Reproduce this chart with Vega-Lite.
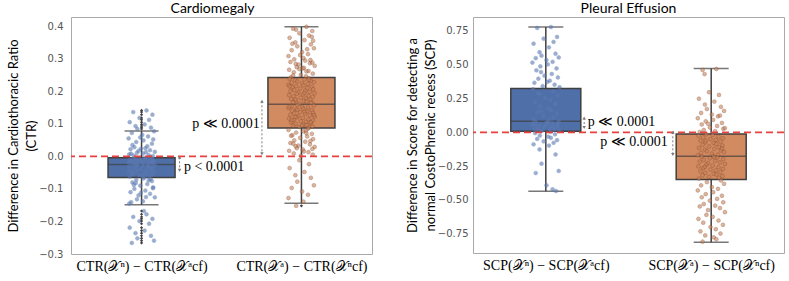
{
"$schema":"https://vega.github.io/schema/vega-lite/v6.json",
"padding":{"left":7,"top":1,"right":0,"bottom":0},
"spacing":31,
"config":{
 "view":{"stroke":"#a9a9a9","strokeWidth":1},
 "axis":{"grid":false,"ticks":false,"domain":false,"labelColor":"#555555","labelFont":"DejaVu Sans","labelFontSize":10,"labelOverlap":false,"titleFont":"Lato","titleFontSize":13,"titleFontWeight":"normal","titleColor":"#000000","titleLineHeight":18},
 "title":{"font":"Lato","fontSize":14,"fontWeight":"normal","color":"#000000"}
},
"datasets":{
 "ctrBox":[{"g":0,"lo":-0.149,"q1":-0.065,"med":-0.025,"q3":-0.004,"hi":0.078},{"g":1,"lo":-0.144,"q1":0.087,"med":0.160,"q3":0.242,"hi":0.398}],
 "scpBox":[{"g":0,"lo":-0.435,"q1":0.007,"med":0.081,"q3":0.324,"hi":0.779},{"g":1,"lo":-0.813,"q1":-0.349,"med":-0.177,"q3":-0.012,"hi":0.472}],
 "ctrPts":[
{"g":0,"x":0.031,"v":0.141},{"g":0,"x":-0.052,"v":0.136},{"g":0,"x":0.068,"v":0.128},{"g":0,"x":-0.013,"v":0.118},{"g":0,"x":0.047,"v":0.112},{"g":0,"x":-0.074,"v":0.105},{"g":0,"x":0.019,"v":0.098},{"g":0,"x":-0.038,"v":0.093},{"g":0,"x":0.059,"v":0.088},{"g":0,"x":-0.026,"v":0.084},
{"g":0,"x":0.078,"v":0.077},{"g":0,"x":-0.061,"v":0.072},{"g":0,"x":0.004,"v":0.066},{"g":0,"x":0.041,"v":0.061},{"g":0,"x":-0.081,"v":0.055},{"g":0,"x":0.012,"v":0.049},{"g":0,"x":-0.033,"v":0.044},{"g":0,"x":0.065,"v":0.039},{"g":0,"x":-0.057,"v":0.035},{"g":0,"x":0.036,"v":0.031},
{"g":0,"x":-0.008,"v":0.058},{"g":0,"x":0.073,"v":0.052},{"g":0,"x":-0.045,"v":0.028},{"g":0,"x":0.024,"v":0.025},{"g":0,"x":-0.069,"v":0.022},{"g":0,"x":0.053,"v":0.019},{"g":0,"x":-0.019,"v":0.017},{"g":0,"x":0.083,"v":0.014},{"g":0,"x":-0.029,"v":0.011},{"g":0,"x":0.009,"v":0.009},
{"g":0,"x":-0.077,"v":0.006},{"g":0,"x":0.044,"v":0.004},{"g":0,"x":-0.048,"v":0.002},{"g":0,"x":0.071,"v":0.001},{"g":0,"x":-0.004,"v":0.023},{"g":0,"x":0.028,"v":0.013},{"g":0,"x":-0.065,"v":0.008},{"g":0,"x":0.056,"v":-0.002},{"g":0,"x":-0.036,"v":-0.004},{"g":0,"x":0.015,"v":-0.005},
{"g":0,"x":0.031,"v":-0.006},{"g":0,"x":-0.052,"v":-0.007},{"g":0,"x":0.068,"v":-0.008},{"g":0,"x":-0.013,"v":-0.009},{"g":0,"x":0.047,"v":-0.010},{"g":0,"x":-0.074,"v":-0.011},{"g":0,"x":0.019,"v":-0.012},{"g":0,"x":-0.038,"v":-0.013},{"g":0,"x":0.059,"v":-0.014},{"g":0,"x":-0.026,"v":-0.015},
{"g":0,"x":0.078,"v":-0.016},{"g":0,"x":-0.061,"v":-0.017},{"g":0,"x":0.004,"v":-0.018},{"g":0,"x":0.041,"v":-0.019},{"g":0,"x":-0.081,"v":-0.020},{"g":0,"x":0.012,"v":-0.021},{"g":0,"x":-0.033,"v":-0.022},{"g":0,"x":0.065,"v":-0.023},{"g":0,"x":-0.057,"v":-0.024},{"g":0,"x":0.036,"v":-0.025},
{"g":0,"x":-0.008,"v":-0.012},{"g":0,"x":0.073,"v":-0.016},{"g":0,"x":-0.045,"v":-0.020},{"g":0,"x":0.024,"v":-0.008},{"g":0,"x":-0.069,"v":-0.014},{"g":0,"x":0.053,"v":-0.019},{"g":0,"x":-0.019,"v":-0.023},{"g":0,"x":0.083,"v":-0.026},{"g":0,"x":-0.029,"v":-0.028},{"g":0,"x":0.009,"v":-0.030},
{"g":0,"x":-0.077,"v":-0.032},{"g":0,"x":0.044,"v":-0.034},{"g":0,"x":-0.048,"v":-0.036},{"g":0,"x":0.071,"v":-0.038},{"g":0,"x":-0.004,"v":-0.040},{"g":0,"x":0.028,"v":-0.042},{"g":0,"x":-0.065,"v":-0.044},{"g":0,"x":0.056,"v":-0.046},{"g":0,"x":-0.036,"v":-0.048},{"g":0,"x":0.015,"v":-0.050},
{"g":0,"x":0.031,"v":-0.052},{"g":0,"x":-0.052,"v":-0.054},{"g":0,"x":0.068,"v":-0.056},{"g":0,"x":-0.013,"v":-0.058},{"g":0,"x":0.047,"v":-0.060},{"g":0,"x":-0.074,"v":-0.062},{"g":0,"x":0.019,"v":-0.064},{"g":0,"x":-0.038,"v":-0.029},{"g":0,"x":0.059,"v":-0.035},{"g":0,"x":-0.026,"v":-0.041},
{"g":0,"x":0.078,"v":-0.047},{"g":0,"x":-0.061,"v":-0.053},{"g":0,"x":0.004,"v":-0.059},{"g":0,"x":0.041,"v":-0.031},{"g":0,"x":-0.081,"v":-0.045},{"g":0,"x":0.012,"v":-0.068},{"g":0,"x":-0.033,"v":-0.072},{"g":0,"x":0.065,"v":-0.076},{"g":0,"x":-0.057,"v":-0.080},{"g":0,"x":0.036,"v":-0.085},
{"g":0,"x":-0.008,"v":-0.090},{"g":0,"x":0.073,"v":-0.095},{"g":0,"x":-0.045,"v":-0.100},{"g":0,"x":0.024,"v":-0.105},{"g":0,"x":-0.069,"v":-0.110},{"g":0,"x":0.053,"v":-0.115},{"g":0,"x":-0.019,"v":-0.120},{"g":0,"x":0.083,"v":-0.126},{"g":0,"x":-0.029,"v":-0.132},{"g":0,"x":0.009,"v":-0.138},
{"g":0,"x":-0.077,"v":-0.145},{"g":0,"x":0.044,"v":-0.074},{"g":0,"x":-0.048,"v":-0.088},{"g":0,"x":0.071,"v":-0.098},{"g":0,"x":-0.004,"v":-0.112},{"g":0,"x":0.028,"v":-0.125},{"g":0,"x":-0.065,"v":-0.141},{"g":0,"x":0.056,"v":-0.070},{"g":0,"x":-0.036,"v":-0.082},{"g":0,"x":0.015,"v":-0.168},
{"g":0,"x":0.031,"v":-0.178},{"g":0,"x":-0.052,"v":-0.186},{"g":0,"x":0.068,"v":-0.192},{"g":0,"x":-0.013,"v":-0.199},{"g":0,"x":0.047,"v":-0.207},{"g":0,"x":-0.074,"v":-0.219},{"g":0,"x":0.019,"v":-0.228},{"g":0,"x":-0.038,"v":-0.236},{"g":0,"x":0.059,"v":-0.244},{"g":0,"x":-0.026,"v":-0.252},
{"g":0,"x":0.078,"v":-0.259},{"g":0,"x":-0.061,"v":-0.266},
{"g":1,"x":1.031,"v":0.398},{"g":1,"x":0.948,"v":0.392},{"g":1,"x":1.068,"v":0.385},{"g":1,"x":0.987,"v":0.378},{"g":1,"x":1.047,"v":0.371},{"g":1,"x":0.926,"v":0.364},{"g":1,"x":1.019,"v":0.357},{"g":1,"x":0.962,"v":0.350},{"g":1,"x":1.059,"v":0.344},{"g":1,"x":0.974,"v":0.338},
{"g":1,"x":1.078,"v":0.332},{"g":1,"x":0.939,"v":0.326},{"g":1,"x":1.004,"v":0.320},{"g":1,"x":1.041,"v":0.314},{"g":1,"x":0.919,"v":0.308},{"g":1,"x":1.012,"v":0.302},{"g":1,"x":0.967,"v":0.389},{"g":1,"x":1.065,"v":0.367},{"g":1,"x":0.943,"v":0.346},{"g":1,"x":1.036,"v":0.329},
{"g":1,"x":0.992,"v":0.311},{"g":1,"x":1.073,"v":0.355},{"g":1,"x":0.955,"v":0.298},{"g":1,"x":1.024,"v":0.294},{"g":1,"x":0.931,"v":0.290},{"g":1,"x":1.053,"v":0.286},{"g":1,"x":0.981,"v":0.282},{"g":1,"x":1.083,"v":0.278},{"g":1,"x":0.971,"v":0.274},{"g":1,"x":1.009,"v":0.270},
{"g":1,"x":0.923,"v":0.266},{"g":1,"x":1.044,"v":0.262},{"g":1,"x":0.952,"v":0.258},{"g":1,"x":1.071,"v":0.254},{"g":1,"x":0.996,"v":0.250},{"g":1,"x":1.028,"v":0.246},{"g":1,"x":0.935,"v":0.243},{"g":1,"x":1.056,"v":0.296},{"g":1,"x":0.964,"v":0.284},{"g":1,"x":1.015,"v":0.272},
{"g":1,"x":1.031,"v":0.261},{"g":1,"x":0.948,"v":0.248},{"g":1,"x":1.068,"v":0.288},{"g":1,"x":0.987,"v":0.268},{"g":1,"x":1.047,"v":0.240},{"g":1,"x":0.926,"v":0.238},{"g":1,"x":1.019,"v":0.236},{"g":1,"x":0.962,"v":0.234},{"g":1,"x":1.059,"v":0.232},{"g":1,"x":0.974,"v":0.230},
{"g":1,"x":1.078,"v":0.228},{"g":1,"x":0.939,"v":0.226},{"g":1,"x":1.004,"v":0.224},{"g":1,"x":1.041,"v":0.222},{"g":1,"x":0.919,"v":0.220},{"g":1,"x":1.012,"v":0.218},{"g":1,"x":0.967,"v":0.216},{"g":1,"x":1.065,"v":0.214},{"g":1,"x":0.943,"v":0.212},{"g":1,"x":1.036,"v":0.210},
{"g":1,"x":0.992,"v":0.208},{"g":1,"x":1.073,"v":0.206},{"g":1,"x":0.955,"v":0.204},{"g":1,"x":1.024,"v":0.202},{"g":1,"x":0.931,"v":0.200},{"g":1,"x":1.053,"v":0.198},{"g":1,"x":0.981,"v":0.196},{"g":1,"x":1.083,"v":0.194},{"g":1,"x":0.971,"v":0.192},{"g":1,"x":1.009,"v":0.190},
{"g":1,"x":0.923,"v":0.188},{"g":1,"x":1.044,"v":0.186},{"g":1,"x":0.952,"v":0.184},{"g":1,"x":1.071,"v":0.182},{"g":1,"x":0.996,"v":0.180},{"g":1,"x":1.028,"v":0.178},{"g":1,"x":0.935,"v":0.176},{"g":1,"x":1.056,"v":0.174},{"g":1,"x":0.964,"v":0.172},{"g":1,"x":1.015,"v":0.170},
{"g":1,"x":1.031,"v":0.168},{"g":1,"x":0.948,"v":0.166},{"g":1,"x":1.068,"v":0.164},{"g":1,"x":0.987,"v":0.162},{"g":1,"x":1.047,"v":0.235},{"g":1,"x":0.926,"v":0.215},{"g":1,"x":1.019,"v":0.195},{"g":1,"x":0.962,"v":0.175},{"g":1,"x":1.059,"v":0.165},{"g":1,"x":0.974,"v":0.158},
{"g":1,"x":1.078,"v":0.156},{"g":1,"x":0.939,"v":0.154},{"g":1,"x":1.004,"v":0.152},{"g":1,"x":1.041,"v":0.150},{"g":1,"x":0.919,"v":0.148},{"g":1,"x":1.012,"v":0.146},{"g":1,"x":0.967,"v":0.144},{"g":1,"x":1.065,"v":0.142},{"g":1,"x":0.943,"v":0.140},{"g":1,"x":1.036,"v":0.138},
{"g":1,"x":0.992,"v":0.136},{"g":1,"x":1.073,"v":0.134},{"g":1,"x":0.955,"v":0.132},{"g":1,"x":1.024,"v":0.130},{"g":1,"x":0.931,"v":0.128},{"g":1,"x":1.053,"v":0.126},{"g":1,"x":0.981,"v":0.124},{"g":1,"x":1.083,"v":0.122},{"g":1,"x":0.971,"v":0.120},{"g":1,"x":1.009,"v":0.118},
{"g":1,"x":0.923,"v":0.116},{"g":1,"x":1.044,"v":0.114},{"g":1,"x":0.952,"v":0.112},{"g":1,"x":1.071,"v":0.110},{"g":1,"x":0.996,"v":0.108},{"g":1,"x":1.028,"v":0.106},{"g":1,"x":0.935,"v":0.104},{"g":1,"x":1.056,"v":0.102},{"g":1,"x":0.964,"v":0.100},{"g":1,"x":1.015,"v":0.098},
{"g":1,"x":1.031,"v":0.096},{"g":1,"x":0.948,"v":0.094},{"g":1,"x":1.068,"v":0.092},{"g":1,"x":0.987,"v":0.090},{"g":1,"x":1.047,"v":0.088},{"g":1,"x":0.926,"v":0.153},{"g":1,"x":1.019,"v":0.137},{"g":1,"x":0.962,"v":0.121},{"g":1,"x":1.059,"v":0.105},{"g":1,"x":0.974,"v":0.143},
{"g":1,"x":1.078,"v":0.127},{"g":1,"x":0.939,"v":0.111},{"g":1,"x":1.004,"v":0.095},{"g":1,"x":1.041,"v":0.085},{"g":1,"x":0.919,"v":0.081},{"g":1,"x":1.012,"v":0.077},{"g":1,"x":0.967,"v":0.073},{"g":1,"x":1.065,"v":0.069},{"g":1,"x":0.943,"v":0.065},{"g":1,"x":1.036,"v":0.061},
{"g":1,"x":0.992,"v":0.057},{"g":1,"x":1.073,"v":0.053},{"g":1,"x":0.955,"v":0.049},{"g":1,"x":1.024,"v":0.045},{"g":1,"x":0.931,"v":0.041},{"g":1,"x":1.053,"v":0.037},{"g":1,"x":0.981,"v":0.033},{"g":1,"x":1.083,"v":0.029},{"g":1,"x":0.971,"v":0.025},{"g":1,"x":1.009,"v":0.021},
{"g":1,"x":0.923,"v":0.017},{"g":1,"x":1.044,"v":0.013},{"g":1,"x":0.952,"v":0.009},{"g":1,"x":1.071,"v":0.005},{"g":1,"x":0.996,"v":0.002},{"g":1,"x":1.028,"v":0.079},{"g":1,"x":0.935,"v":0.063},{"g":1,"x":1.056,"v":0.047},{"g":1,"x":0.964,"v":0.031},{"g":1,"x":1.015,"v":0.015},
{"g":1,"x":1.031,"v":0.071},{"g":1,"x":0.948,"v":0.039},{"g":1,"x":1.068,"v":0.023},{"g":1,"x":0.987,"v":-0.012},{"g":1,"x":1.047,"v":-0.024},{"g":1,"x":0.926,"v":-0.036},{"g":1,"x":1.019,"v":-0.048},{"g":1,"x":0.962,"v":-0.058},{"g":1,"x":1.059,"v":-0.066},{"g":1,"x":0.974,"v":-0.078},
{"g":1,"x":1.078,"v":-0.089},{"g":1,"x":0.939,"v":-0.097},{"g":1,"x":1.004,"v":-0.108},{"g":1,"x":1.041,"v":-0.118},{"g":1,"x":0.919,"v":-0.128},{"g":1,"x":1.012,"v":-0.139},{"g":1,"x":0.967,"v":-0.152}
 ],
 "scpPts":[
{"g":0,"x":0.031,"v":0.778},{"g":0,"x":-0.052,"v":0.771},{"g":0,"x":0.068,"v":0.705},{"g":0,"x":-0.013,"v":0.692},{"g":0,"x":0.047,"v":0.668},{"g":0,"x":-0.074,"v":0.655},{"g":0,"x":0.019,"v":0.628},{"g":0,"x":-0.038,"v":0.592},{"g":0,"x":0.059,"v":0.581},{"g":0,"x":-0.026,"v":0.566},
{"g":0,"x":0.078,"v":0.553},{"g":0,"x":-0.061,"v":0.548},{"g":0,"x":0.004,"v":0.534},{"g":0,"x":0.041,"v":0.521},{"g":0,"x":-0.081,"v":0.515},{"g":0,"x":0.012,"v":0.502},{"g":0,"x":-0.033,"v":0.487},{"g":0,"x":0.065,"v":0.472},{"g":0,"x":-0.057,"v":0.458},{"g":0,"x":0.036,"v":0.431},
{"g":0,"x":-0.008,"v":0.418},{"g":0,"x":0.073,"v":0.405},{"g":0,"x":-0.045,"v":0.396},{"g":0,"x":0.024,"v":0.381},{"g":0,"x":-0.069,"v":0.366},{"g":0,"x":0.053,"v":0.352},{"g":0,"x":-0.019,"v":0.341},{"g":0,"x":0.083,"v":0.333},{"g":0,"x":-0.029,"v":0.445},{"g":0,"x":0.009,"v":0.372},
{"g":0,"x":-0.077,"v":0.318},{"g":0,"x":0.044,"v":0.301},{"g":0,"x":-0.048,"v":0.288},{"g":0,"x":0.071,"v":0.272},{"g":0,"x":-0.004,"v":0.254},{"g":0,"x":0.028,"v":0.239},{"g":0,"x":-0.065,"v":0.221},{"g":0,"x":0.056,"v":0.207},{"g":0,"x":-0.036,"v":0.192},{"g":0,"x":0.015,"v":0.178},
{"g":0,"x":0.031,"v":0.163},{"g":0,"x":-0.052,"v":0.149},{"g":0,"x":0.068,"v":0.136},{"g":0,"x":-0.013,"v":0.122},{"g":0,"x":0.047,"v":0.109},{"g":0,"x":-0.074,"v":0.097},{"g":0,"x":0.019,"v":0.088},{"g":0,"x":-0.038,"v":0.283},{"g":0,"x":0.059,"v":0.214},{"g":0,"x":-0.026,"v":0.156},
{"g":0,"x":0.078,"v":0.079},{"g":0,"x":-0.061,"v":0.075},{"g":0,"x":0.004,"v":0.071},{"g":0,"x":0.041,"v":0.067},{"g":0,"x":-0.081,"v":0.063},{"g":0,"x":0.012,"v":0.059},{"g":0,"x":-0.033,"v":0.055},{"g":0,"x":0.065,"v":0.051},{"g":0,"x":-0.057,"v":0.047},{"g":0,"x":0.036,"v":0.043},
{"g":0,"x":-0.008,"v":0.039},{"g":0,"x":0.073,"v":0.035},{"g":0,"x":-0.045,"v":0.031},{"g":0,"x":0.024,"v":0.027},{"g":0,"x":-0.069,"v":0.023},{"g":0,"x":0.053,"v":0.019},{"g":0,"x":-0.019,"v":0.015},{"g":0,"x":0.083,"v":0.011},{"g":0,"x":-0.029,"v":0.008},{"g":0,"x":0.009,"v":0.069},
{"g":0,"x":-0.077,"v":0.053},{"g":0,"x":0.044,"v":0.037},{"g":0,"x":-0.048,"v":0.021},{"g":0,"x":0.071,"v":0.061},{"g":0,"x":-0.004,"v":0.045},{"g":0,"x":0.028,"v":0.004},{"g":0,"x":-0.065,"v":-0.006},{"g":0,"x":0.056,"v":-0.015},{"g":0,"x":-0.036,"v":-0.024},{"g":0,"x":0.015,"v":-0.032},
{"g":0,"x":0.031,"v":-0.041},{"g":0,"x":-0.052,"v":-0.049},{"g":0,"x":0.068,"v":-0.058},{"g":0,"x":-0.013,"v":-0.067},{"g":0,"x":0.047,"v":-0.078},{"g":0,"x":-0.074,"v":-0.089},{"g":0,"x":0.019,"v":-0.098},{"g":0,"x":-0.038,"v":-0.127},{"g":0,"x":0.059,"v":-0.164},{"g":0,"x":-0.026,"v":-0.232},
{"g":0,"x":0.078,"v":-0.286},{"g":0,"x":-0.061,"v":-0.301},{"g":0,"x":0.004,"v":-0.392},{"g":0,"x":0.041,"v":-0.421},{"g":0,"x":0.062,"v":-0.434},
{"g":1,"x":1.031,"v":0.468},{"g":1,"x":0.948,"v":0.461},{"g":1,"x":0.96,"v":0.430},{"g":1,"x":0.987,"v":0.296},{"g":1,"x":1.047,"v":0.276},{"g":1,"x":0.926,"v":0.248},{"g":1,"x":1.019,"v":0.227},{"g":1,"x":0.962,"v":0.205},{"g":1,"x":1.059,"v":0.188},{"g":1,"x":0.974,"v":0.172},
{"g":1,"x":1.078,"v":0.158},{"g":1,"x":0.939,"v":0.143},{"g":1,"x":1.004,"v":0.131},{"g":1,"x":1.041,"v":0.118},{"g":1,"x":0.919,"v":0.104},{"g":1,"x":1.012,"v":0.092},{"g":1,"x":0.967,"v":0.081},{"g":1,"x":1.065,"v":0.069},{"g":1,"x":0.943,"v":0.058},{"g":1,"x":1.036,"v":0.047},
{"g":1,"x":0.992,"v":0.036},{"g":1,"x":1.073,"v":0.026},{"g":1,"x":0.955,"v":0.017},{"g":1,"x":1.024,"v":0.008},{"g":1,"x":0.931,"v":0.002},{"g":1,"x":1.053,"v":0.124},{"g":1,"x":0.981,"v":0.063},{"g":1,"x":1.083,"v":0.031},{"g":1,"x":0.971,"v":-0.014},{"g":1,"x":1.009,"v":-0.020},
{"g":1,"x":0.923,"v":-0.026},{"g":1,"x":1.044,"v":-0.032},{"g":1,"x":0.952,"v":-0.038},{"g":1,"x":1.071,"v":-0.044},{"g":1,"x":0.996,"v":-0.050},{"g":1,"x":1.028,"v":-0.056},{"g":1,"x":0.935,"v":-0.062},{"g":1,"x":1.056,"v":-0.068},{"g":1,"x":0.964,"v":-0.074},{"g":1,"x":1.015,"v":-0.080},
{"g":1,"x":1.031,"v":-0.086},{"g":1,"x":0.948,"v":-0.092},{"g":1,"x":1.068,"v":-0.098},{"g":1,"x":0.987,"v":-0.104},{"g":1,"x":1.047,"v":-0.110},{"g":1,"x":0.926,"v":-0.116},{"g":1,"x":1.019,"v":-0.122},{"g":1,"x":0.962,"v":-0.128},{"g":1,"x":1.059,"v":-0.134},{"g":1,"x":0.974,"v":-0.140},
{"g":1,"x":1.078,"v":-0.146},{"g":1,"x":0.939,"v":-0.152},{"g":1,"x":1.004,"v":-0.158},{"g":1,"x":1.041,"v":-0.164},{"g":1,"x":0.919,"v":-0.170},{"g":1,"x":1.012,"v":-0.176},{"g":1,"x":0.967,"v":-0.061},{"g":1,"x":1.065,"v":-0.119},{"g":1,"x":0.943,"v":-0.180},{"g":1,"x":1.036,"v":-0.186},
{"g":1,"x":0.992,"v":-0.192},{"g":1,"x":1.073,"v":-0.198},{"g":1,"x":0.955,"v":-0.204},{"g":1,"x":1.024,"v":-0.210},{"g":1,"x":0.931,"v":-0.216},{"g":1,"x":1.053,"v":-0.222},{"g":1,"x":0.981,"v":-0.228},{"g":1,"x":1.083,"v":-0.234},{"g":1,"x":0.971,"v":-0.240},{"g":1,"x":1.009,"v":-0.246},
{"g":1,"x":0.923,"v":-0.252},{"g":1,"x":1.044,"v":-0.258},{"g":1,"x":0.952,"v":-0.264},{"g":1,"x":1.071,"v":-0.270},{"g":1,"x":0.996,"v":-0.276},{"g":1,"x":1.028,"v":-0.282},{"g":1,"x":0.935,"v":-0.288},{"g":1,"x":1.056,"v":-0.294},{"g":1,"x":0.964,"v":-0.300},{"g":1,"x":1.015,"v":-0.306},
{"g":1,"x":1.031,"v":-0.312},{"g":1,"x":0.948,"v":-0.318},{"g":1,"x":1.068,"v":-0.324},{"g":1,"x":0.987,"v":-0.330},{"g":1,"x":1.047,"v":-0.336},{"g":1,"x":0.926,"v":-0.342},{"g":1,"x":1.019,"v":-0.185},{"g":1,"x":0.962,"v":-0.255},{"g":1,"x":1.059,"v":-0.356},{"g":1,"x":0.974,"v":-0.368},
{"g":1,"x":1.078,"v":-0.381},{"g":1,"x":0.939,"v":-0.392},{"g":1,"x":1.004,"v":-0.405},{"g":1,"x":1.041,"v":-0.418},{"g":1,"x":0.919,"v":-0.430},{"g":1,"x":1.012,"v":-0.443},{"g":1,"x":0.967,"v":-0.457},{"g":1,"x":1.065,"v":-0.469},{"g":1,"x":0.943,"v":-0.480},{"g":1,"x":1.036,"v":-0.492},
{"g":1,"x":0.992,"v":-0.505},{"g":1,"x":1.073,"v":-0.517},{"g":1,"x":0.955,"v":-0.530},{"g":1,"x":1.024,"v":-0.542},{"g":1,"x":0.931,"v":-0.548},{"g":1,"x":1.053,"v":-0.560},{"g":1,"x":0.981,"v":-0.575},{"g":1,"x":1.083,"v":-0.590},{"g":1,"x":0.971,"v":-0.610},{"g":1,"x":1.009,"v":-0.625},
{"g":1,"x":0.923,"v":-0.640},{"g":1,"x":1.044,"v":-0.652},{"g":1,"x":0.952,"v":-0.668},{"g":1,"x":1.071,"v":-0.684},{"g":1,"x":0.996,"v":-0.700},{"g":1,"x":1.028,"v":-0.716},{"g":1,"x":0.935,"v":-0.732},{"g":1,"x":1.056,"v":-0.748},{"g":1,"x":0.964,"v":-0.762},{"g":1,"x":1.015,"v":-0.776},
{"g":1,"x":1.031,"v":-0.790},{"g":1,"x":0.948,"v":-0.808}
 ],
 "ctrArrows":[{"x":0.753,"top":0.169,"bot":0.008},{"x":0.238,"top":-0.003,"bot":-0.043}],
 "scpArrows":[{"x":0.232,"top":0.105,"bot":0.035},{"x":0.768,"top":0.0,"bot":-0.165}]
},
"hconcat":[
 {
  "width":301,"height":237,
  "title":{"text":"Cardiomegaly","offset":1,"dx":-9},
  "layer":[
   {"data":{"name":"ctrBox"},"mark":{"type":"rule","color":"#3f3f3f","strokeWidth":1.5},
    "encoding":{
     "x":{"field":"g","type":"quantitative","scale":{"domain":[-0.41,1.41],"nice":false,"zero":false},
      "axis":{"values":[0,1],"tickCount":10,"title":null,"labelFont":"Liberation Serif","labelFontSize":14,"labelColor":"#000000","labelPadding":5,"labelFlush":false,"labelOverlap":false,
       "labelExpr":"datum.value == 0 ? 'CTR(𝒳ⁿ) − CTR(𝒳ᵃcf)' : 'CTR(𝒳ᵃ) − CTR(𝒳ⁿcf)'"}},
     "y":{"field":"lo","type":"quantitative","scale":{"domain":[-0.3,0.428],"nice":false,"zero":false},
      "axis":{"values":[-0.3,-0.2,-0.1,0,0.1,0.2,0.3,0.4],"tickCount":12,"format":".1f","labelPadding":8,"titlePadding":0,"labelOverlap":false,"labelFont":"DejaVu Sans","labelFontSize":10,"labelColor":"#555555","labelFlush":false,
       "title":["Difference in Cardiothoracic Ratio","(CTR)"]}},
     "y2":{"field":"hi"}}},
   {"data":{"name":"ctrBox"},"mark":{"type":"bar","width":67,"stroke":"#3f3f3f","strokeWidth":1.5},
    "encoding":{
     "x":{"field":"g","type":"quantitative"},
     "y":{"field":"q1","type":"quantitative"},
     "y2":{"field":"q3"},
     "color":{"field":"g","type":"nominal","scale":{"domain":[0,1],"range":["#4f6fa9","#d28a60"]},"legend":null}}},
   {"data":{"name":"ctrBox"},"mark":{"type":"tick","orient":"horizontal","size":67,"thickness":1.5,"color":"#3f3f3f"},
    "encoding":{"x":{"field":"g","type":"quantitative"},"y":{"field":"med","type":"quantitative"}}},
   {"data":{"name":"ctrBox"},"mark":{"type":"tick","orient":"horizontal","size":34,"thickness":1.5,"color":"#3f3f3f"},
    "encoding":{"x":{"field":"g","type":"quantitative"},"y":{"field":"lo","type":"quantitative"}}},
   {"data":{"name":"ctrBox"},"mark":{"type":"tick","orient":"horizontal","size":34,"thickness":1.5,"color":"#3f3f3f"},
    "encoding":{"x":{"field":"g","type":"quantitative"},"y":{"field":"hi","type":"quantitative"}}},
   {"data":{"name":"ctrPts"},"mark":{"type":"point","filled":true,"size":14,"opacity":0.6,"strokeWidth":0.7},
    "encoding":{"x":{"field":"x","type":"quantitative"},"y":{"field":"v","type":"quantitative"},
     "fill":{"field":"g","type":"nominal","scale":{"domain":[0,1],"range":["#5a78b0","#c8845c"]},"legend":null},
     "stroke":{"field":"g","type":"nominal","scale":{"domain":[0,1],"range":["#5a78b0","#8c4f30"]},"legend":null}}},
   {"data":{"name":"ctrPts"},"transform":[{"filter":"(datum.g==0 && (datum.v>0.078 || datum.v<-0.149)) || (datum.g==1 && (datum.v>0.398 || datum.v<-0.144))"}],
    "mark":{"type":"point","filled":true,"shape":"diamond","size":10,"color":"#3f3f3f","opacity":1},
    "encoding":{"x":{"field":"g","type":"quantitative"},"y":{"field":"v","type":"quantitative"}}},
   {"data":{"values":[{}]},"mark":{"type":"rule","color":"#e8413f","strokeDash":[7,4],"strokeWidth":1.8},
    "encoding":{"y":{"datum":0,"type":"quantitative"}}},
   {"data":{"name":"ctrArrows"},"mark":{"type":"rule","color":"#7a7a7a","strokeDash":[2,2],"strokeWidth":1},
    "encoding":{"x":{"field":"x","type":"quantitative"},"y":{"field":"top","type":"quantitative"},"y2":{"field":"bot"}}},
   {"data":{"name":"ctrArrows"},"mark":{"type":"point","shape":"triangle-up","filled":true,"size":12,"color":"#7a7a7a","opacity":1},
    "encoding":{"x":{"field":"x","type":"quantitative"},"y":{"field":"top","type":"quantitative"}}},
   {"data":{"name":"ctrArrows"},"mark":{"type":"point","shape":"triangle-down","filled":true,"size":12,"color":"#7a7a7a","opacity":1},
    "encoding":{"x":{"field":"x","type":"quantitative"},"y":{"field":"bot","type":"quantitative"}}},
   {"data":{"values":[{"x":0.739,"y":0.098,"t":"p ≪ 0.0001"}]},"mark":{"type":"text","align":"right","baseline":"middle","font":"Liberation Serif","fontSize":14,"color":"#000000"},
    "encoding":{"x":{"field":"x","type":"quantitative"},"y":{"field":"y","type":"quantitative"},"text":{"field":"t"}}},
   {"data":{"values":[{"x":0.265,"y":-0.034,"t":"p < 0.0001"}]},"mark":{"type":"text","align":"left","baseline":"middle","font":"Liberation Serif","fontSize":14,"color":"#000000"},
    "encoding":{"x":{"field":"x","type":"quantitative"},"y":{"field":"y","type":"quantitative"},"text":{"field":"t"}}}
  ]
 },
 {
  "width":311,"height":236,
  "title":{"text":"Pleural Effusion","offset":1},
  "layer":[
   {"data":{"name":"scpBox"},"mark":{"type":"rule","color":"#3f3f3f","strokeWidth":1.5},
    "encoding":{
     "x":{"field":"g","type":"quantitative","scale":{"domain":[-0.41,1.41],"nice":false,"zero":false},
      "axis":{"values":[0,1],"tickCount":10,"title":null,"labelFont":"Liberation Serif","labelFontSize":14,"labelColor":"#000000","labelPadding":5,"labelFlush":false,"labelOverlap":false,
       "labelExpr":"datum.value == 0 ? 'SCP(𝒳ⁿ) − SCP(𝒳ᵃcf)' : 'SCP(𝒳ᵃ) − SCP(𝒳ⁿcf)'"}},
     "y":{"field":"lo","type":"quantitative","scale":{"domain":[-0.892,0.852],"nice":false,"zero":false},
      "axis":{"values":[-0.75,-0.5,-0.25,0,0.25,0.5,0.75],"tickCount":12,"format":".2f","labelPadding":5,"titlePadding":0,"labelOverlap":false,"labelFont":"DejaVu Sans","labelFontSize":10,"labelColor":"#555555","labelFlush":false,
       "title":["Difference in Score for detecting a","normal CostoPhrenic recess (SCP)"]}},
     "y2":{"field":"hi"}}},
   {"data":{"name":"scpBox"},"mark":{"type":"bar","width":70,"stroke":"#3f3f3f","strokeWidth":1.5},
    "encoding":{
     "x":{"field":"g","type":"quantitative"},
     "y":{"field":"q1","type":"quantitative"},
     "y2":{"field":"q3"},
     "color":{"field":"g","type":"nominal","scale":{"domain":[0,1],"range":["#4f6fa9","#d28a60"]},"legend":null}}},
   {"data":{"name":"scpBox"},"mark":{"type":"tick","orient":"horizontal","size":70,"thickness":1.5,"color":"#3f3f3f"},
    "encoding":{"x":{"field":"g","type":"quantitative"},"y":{"field":"med","type":"quantitative"}}},
   {"data":{"name":"scpBox"},"mark":{"type":"tick","orient":"horizontal","size":35,"thickness":1.5,"color":"#3f3f3f"},
    "encoding":{"x":{"field":"g","type":"quantitative"},"y":{"field":"lo","type":"quantitative"}}},
   {"data":{"name":"scpBox"},"mark":{"type":"tick","orient":"horizontal","size":35,"thickness":1.5,"color":"#3f3f3f"},
    "encoding":{"x":{"field":"g","type":"quantitative"},"y":{"field":"hi","type":"quantitative"}}},
   {"data":{"name":"scpPts"},"mark":{"type":"point","filled":true,"size":14,"opacity":0.6,"strokeWidth":0.7},
    "encoding":{"x":{"field":"x","type":"quantitative"},"y":{"field":"v","type":"quantitative"},
     "fill":{"field":"g","type":"nominal","scale":{"domain":[0,1],"range":["#5a78b0","#c8845c"]},"legend":null},
     "stroke":{"field":"g","type":"nominal","scale":{"domain":[0,1],"range":["#5a78b0","#8c4f30"]},"legend":null}}},
   {"data":{"values":[{}]},"mark":{"type":"rule","color":"#e8413f","strokeDash":[7,4],"strokeWidth":1.8},
    "encoding":{"y":{"datum":0,"type":"quantitative"}}},
   {"data":{"name":"scpArrows"},"mark":{"type":"rule","color":"#7a7a7a","strokeDash":[2,2],"strokeWidth":1},
    "encoding":{"x":{"field":"x","type":"quantitative"},"y":{"field":"top","type":"quantitative"},"y2":{"field":"bot"}}},
   {"data":{"name":"scpArrows"},"mark":{"type":"point","shape":"triangle-up","filled":true,"size":12,"color":"#7a7a7a","opacity":1},
    "encoding":{"x":{"field":"x","type":"quantitative"},"y":{"field":"top","type":"quantitative"}}},
   {"data":{"name":"scpArrows"},"mark":{"type":"point","shape":"triangle-down","filled":true,"size":12,"color":"#7a7a7a","opacity":1},
    "encoding":{"x":{"field":"x","type":"quantitative"},"y":{"field":"bot","type":"quantitative"}}},
   {"data":{"values":[{"x":0.738,"y":-0.074,"t":"p ≪ 0.0001"}]},"mark":{"type":"text","align":"right","baseline":"middle","font":"Liberation Serif","fontSize":14,"color":"#000000"},
    "encoding":{"x":{"field":"x","type":"quantitative"},"y":{"field":"y","type":"quantitative"},"text":{"field":"t"}}},
   {"data":{"values":[{"x":0.253,"y":0.074,"t":"p ≪ 0.0001"}]},"mark":{"type":"text","align":"left","baseline":"middle","font":"Liberation Serif","fontSize":14,"color":"#000000"},
    "encoding":{"x":{"field":"x","type":"quantitative"},"y":{"field":"y","type":"quantitative"},"text":{"field":"t"}}}
  ]
 }
]
}
